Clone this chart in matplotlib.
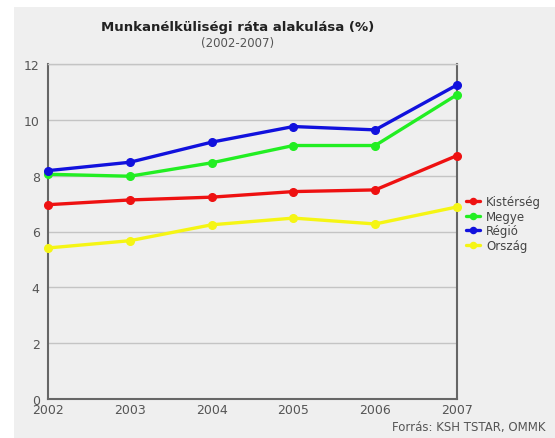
import matplotlib
matplotlib.use("Agg")
import matplotlib.pyplot as plt
from matplotlib.patches import Rectangle

years = [2002, 2003, 2004, 2005, 2006, 2007]
kisterseg = [6.96, 7.13, 7.23, 7.43, 7.49, 8.72]
megye = [8.05, 7.98, 8.46, 9.08, 9.08, 10.9]
regio = [8.18, 8.48, 9.20, 9.76, 9.64, 11.25]
orszag = [5.41, 5.67, 6.24, 6.48, 6.27, 6.88]
series_names = ["Kistérség", "Megye", "Régió", "Ország"]
yticks = [0, 2, 4, 6, 8, 10, 12]

W, H = 555, 439
fig = plt.figure(figsize=(W / 100, H / 100), dpi=100)
fig.patch.set_facecolor("white")
bg = "#efefef"
fig.patches.append(Rectangle((14 / W, 0), 1 - 14 / W, 1 - 8 / H, transform=fig.transFigure,
                             facecolor=bg, edgecolor="none", zorder=-10))

x0, x1, y0, y1 = 48, 457, 65, 400
ax = fig.add_axes([x0 / W, 1 - y1 / H, (x1 - x0) / W, (y1 - y0) / H])
ax.set_zorder(2)
ax.set_facecolor(bg)

colors = ["#ee1111", "#22ee22", "#1111dd", "#f5f514"]
data = [kisterseg, megye, regio, orszag]
handles = []
for vals, c, name in zip(data, colors, series_names):
    h, = ax.plot(years, vals, color=c, lw=2.4, marker="o", ms=5.5, label=name,
                 solid_capstyle="round", zorder=3, clip_on=False)
    handles.append(h)

ax.set_xlim(2002, 2007)
ax.set_ylim(0, 12)
ax.set_yticks(yticks)
ax.set_xticks(years)
ax.grid(axis="y", color="#c4c4c4", lw=1.0, zorder=1)
for s in ["left", "bottom", "right"]:
    ax.spines[s].set_color("#666666")
    ax.spines[s].set_linewidth(1.5)
ax.spines["top"].set_color("#c4c4c4")
ax.spines["top"].set_linewidth(1.0)
ax.tick_params(length=0, labelsize=9, labelcolor="#555555")
ax.tick_params(axis="x", pad=3)
ax.tick_params(axis="y", pad=6)

fig.text(238 / W, 1 - 28 / H, "Munkanélküliségi ráta alakulása (%)", ha="center", va="center",
         fontsize=9.5, fontweight="bold", color="#222222")
fig.text(238 / W, 1 - 44 / H, "(2002-2007)", ha="center", va="center",
         fontsize=8.5, color="#555555")
fig.text(545 / W, 1 - 428 / H, "Forrás: KSH TSTAR, OMMK", ha="right", va="center",
         fontsize=8.5, color="#555555")

fig.legend(handles=handles, labels=series_names, loc="upper left",
           bbox_to_anchor=(460 / W, 1 - 190 / H), frameon=False, fontsize=8.5,
           handlelength=1.2, handletextpad=0.5, labelspacing=0.15, borderpad=0,
           labelcolor="#444444", markerscale=0.8)

fig.savefig("out.png", dpi=100, facecolor=fig.get_facecolor())
